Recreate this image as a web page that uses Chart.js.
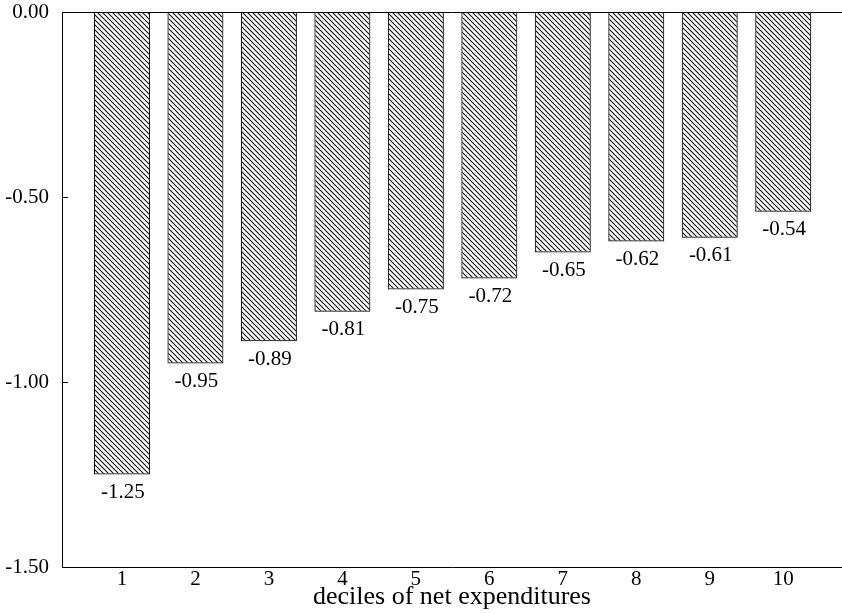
<!DOCTYPE html>
<html lang="en">
  <head>
    <meta charset="UTF-8" />
    <title>Deciles of net expenditures</title>
    <script src="https://cdn.jsdelivr.net/npm/chart.js@4.4.1/dist/chart.umd.min.js"></script>
    <style>
      html, body { margin: 0; padding: 0; background: #fff; }
      .container { width: 842px; height: 613px; }
    </style>
  </head>
  <body>
    <div class="container">
      <canvas id="myChart"></canvas>
    </div>
    <script>
      const deciles = [1, 2, 3, 4, 5, 6, 7, 8, 9, 10];
      const values = [-1.25, -0.95, -0.89, -0.81, -0.75, -0.72, -0.65, -0.62, -0.61, -0.54];
      const yTicks = [-1.5, -1.0, -0.5, 0];

      const serif = 'Liberation Serif';

      // diagonal hatching, "\" direction
      function hatch() {
        const s = 5;
        const c = document.createElement('canvas');
        c.width = s;
        c.height = s;
        const g = c.getContext('2d');
        g.strokeStyle = '#111';
        g.lineWidth = 1.1;
        g.beginPath();
        g.moveTo(-1, -1); g.lineTo(s + 1, s + 1);
        g.moveTo(-1, s - 1); g.lineTo(1, s + 1);
        g.moveTo(s - 1, -1); g.lineTo(s + 1, 1);
        g.stroke();
        return g.createPattern(c, 'repeat');
      }

      const barLabels = {
        id: 'barLabels',
        afterDatasetsDraw(chart) {
          const ctx = chart.ctx;
          const meta = chart.getDatasetMeta(0);
          ctx.save();
          ctx.font = '21px "' + serif + '"';
          ctx.fillStyle = '#000';
          ctx.textAlign = 'center';
          ctx.textBaseline = 'middle';
          meta.data.forEach((bar, i) => {
            ctx.fillText(values[i].toFixed(2), bar.x + 1, bar.y + 18);
          });
          ctx.restore();
        },
      };

      const innerTicks = {
        id: 'innerTicks',
        afterDraw(chart) {
          const ctx = chart.ctx;
          const y = chart.scales.y;
          const left = chart.chartArea.left;
          ctx.save();
          ctx.strokeStyle = '#000';
          ctx.lineWidth = 1;
          ctx.beginPath();
          yTicks.forEach((v) => {
            const py = Math.round(y.getPixelForValue(v)) + 0.5;
            ctx.moveTo(left, py);
            ctx.lineTo(left + 6, py);
          });
          ctx.stroke();
          ctx.restore();
        },
      };

      const data = {
        labels: deciles,
        datasets: [
          {
            data: values,
            backgroundColor: hatch(),
            borderColor: '#000',
            borderWidth: 1,
            categoryPercentage: 1,
            barPercentage: 0.762,
          },
        ],
      };

      const config = {
        type: 'bar',
        data: data,
        options: {
          animation: false,
          responsive: true,
          maintainAspectRatio: false,
          layout: { padding: { top: 12, right: 0, left: 0, bottom: 0 } },
          plugins: {
            legend: { display: false },
            tooltip: { enabled: false },
          },
          scales: {
            x: {
              type: 'linear',
              offset: false,
              min: 0.184,
              max: 10.8,
              afterBuildTicks: (scale) => {
                scale.ticks = deciles.map((v) => ({ value: v }));
              },
              afterFit: (scale) => {
                scale.height = 46;
              },
              grid: { display: false, drawTicks: false },
              border: { display: true, color: '#000', width: 1 },
              ticks: {
                padding: 0,
                color: '#000',
                font: { family: serif, size: 21 },
                callback: (v) => String(v),
              },
              title: {
                display: true,
                text: 'deciles of net expenditures',
                color: '#000',
                font: { family: serif, size: 26 },
                padding: { top: 0, bottom: 0 },
              },
            },
            y: {
              min: -1.5,
              max: 0,
              afterBuildTicks: (scale) => {
                scale.ticks = yTicks.map((v) => ({ value: v }));
              },
              afterFit: (scale) => {
                scale.width = 62;
                scale.paddingTop = 0;
                scale.paddingBottom = 0;
              },
              grid: {
                drawTicks: false,
                color: (ctx) => (ctx.tick && ctx.tick.value === 0 ? '#000' : 'rgba(0,0,0,0)'),
              },
              border: { display: true, color: '#000', width: 1 },
              ticks: {
                padding: 13,
                color: '#000',
                font: { family: serif, size: 21 },
                callback: (v) => Number(v).toFixed(2),
              },
            },
          },
        },
        plugins: [barLabels, innerTicks],
      };

      new Chart(document.getElementById('myChart'), config);
    </script>
  </body>
</html>
